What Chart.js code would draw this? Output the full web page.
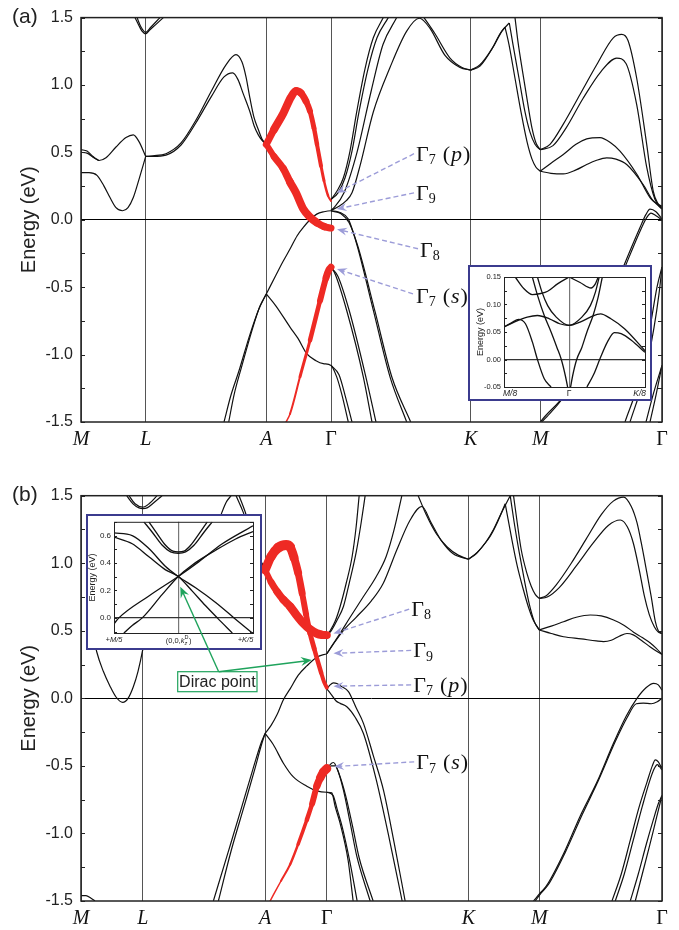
<!DOCTYPE html>
<html>
<head>
<meta charset="utf-8">
<script src="https://cdn.jsdelivr.net/npm/chart.js@4.4.0/dist/chart.umd.min.js"></script>
<style>
html, body { margin: 0; padding: 0; background: #fff; }
#wrap { position: relative; width: 679px; height: 930px; overflow: hidden; }
canvas { position: absolute; }
</style>
</head>
<body>
<div id="wrap">
  <canvas id="pa" width="679" height="465" style="left:0;top:0"></canvas>
  <canvas id="pb" width="679" height="465" style="left:0;top:465px"></canvas>
  <canvas id="ia" width="184" height="136" style="left:468px;top:265px"></canvas>
  <canvas id="ib" width="176" height="136" style="left:86px;top:514px"></canvas>
</div>
<script>
// k-path positions of the high-symmetry points and their labels
const kPosA = [0, 64.7, 185.3, 250, 389.7, 459.3, 581];
const kPosB = [0, 61.7, 184, 245.7, 387.3, 458, 580.7];
const kLab = ['M', 'L', 'A', 'Γ', 'K', 'M', 'Γ'];
const eTicks = [-1.5, -1, -0.5, 0, 0.5, 1, 1.5];

// ---- panel (a) bands, [k, E(eV)] ----
const aML1 = [[0,0.52],[6,0.51],[12,0.47],[18,0.44],[25,0.46],[35,0.54],[45,0.61],[52.3,0.63],[58,0.58],[64.7,0.47]];
const aML2 = [[0,0.50],[6,0.495],[12,0.465],[18,0.44]];
const aML3 = [[0,0.35],[8,0.35],[16,0.33],[23,0.25],[29,0.165],[35,0.09],[41.7,0.067],[47,0.09],[52.3,0.165],[58,0.3],[64.7,0.47]];
const aLtop1 = [[54,1.5],[58,1.44],[61,1.4],[64.7,1.38],[69,1.41],[75,1.45],[82.3,1.5]];
const aLtop2 = [[56,1.5],[60,1.43],[64.7,1.39],[70,1.43],[79,1.5]];
const aLA1 = [[64.7,0.47],[72,0.475],[85,0.49],[100,0.57],[115,0.74],[130,0.95],[145,1.15],[155,1.225],[161,1.17],[165,1.06],[169,0.9],[173,0.76],[177.3,0.67],[181,0.6],[185.3,0.56]];
const aLA2 = [[64.7,0.47],[72,0.47],[85,0.48],[100,0.555],[115,0.72],[130,0.91],[143,1.06],[151.7,1.09],[157,1.04],[162,0.94],[169,0.8],[173,0.7],[177.3,0.63],[181,0.59],[185.3,0.56]];
const aAdn1 = [[143,-1.5],[150,-1.3],[158,-1.12],[169,-0.85],[178,-0.66],[185.3,-0.55]];
const aAdn2 = [[147.7,-1.5],[153,-1.3],[161,-1.08],[171,-0.82],[179,-0.64],[185.3,-0.55]];
const aAG1 = [[185.3,-0.55],[195,-0.41],[202,-0.31],[209,-0.217],[216,-0.12],[222.3,-0.057],[229,0.0],[235.7,0.042],[243,0.06],[250,0.067],[259,0.054],[267.3,0.005],[275.7,-0.18],[292.3,-0.67],[309,-1.165],[325.7,-1.5]];
const aGK2 = [[250,0.065],[260,0.045],[268,-0.02],[277,-0.2],[294,-0.68],[311,-1.17],[329.7,-1.5]];
const aAG2 = [[185.3,-0.55],[195,-0.64],[209,-0.796],[217,-0.88],[225.7,-0.993],[235,-1.045],[242.3,-1.067],[250,-1.08],[255.7,-1.165],[261,-1.3],[267.3,-1.5]];
const aGK3 = [[250,-1.08],[258,-1.15],[264,-1.3],[271,-1.5]];
const aGK1a = [[250,0.15],[255.7,0.21],[262.3,0.31],[269,0.51],[275.7,0.8],[284,1.12],[292.3,1.35],[302.3,1.5]];
const aGK1b = [[250,0.15],[257,0.2],[264,0.31],[271,0.51],[278,0.8],[287,1.12],[296,1.35],[307.3,1.5]];
const aGK1c = [[250,0.07],[253,0.09],[263,0.2],[276,0.5],[290,0.95],[302,1.3],[315.7,1.5]];
const aGK4 = [[250,0.07],[258,0.1],[265,0.14],[271,0.2],[279,0.4],[292.3,0.8],[309,1.13],[325.7,1.4],[338.3,1.495],[349,1.42],[364,1.22],[379,1.13],[389.7,1.11]];
const aGK5 = [[343,1.5],[354,1.38],[369,1.2],[381,1.13],[389.7,1.11]];
const aGs1 = [[250,-0.352],[254,-0.4],[265.7,-0.673],[282.3,-1.165],[291,-1.5]];
const aGs2 = [[250,-0.352],[257,-0.42],[268.5,-0.68],[285,-1.17],[295,-1.5]];
const aKM1 = [[389.7,1.11],[399,1.15],[411,1.27],[419,1.38],[424,1.43]];
const aKM2 = [[389.7,1.11],[399,1.14],[412,1.28],[421,1.4],[428.3,1.46]];
const aKM3 = [[424,1.43],[428,1.3],[434,1.05],[440,0.8],[446,0.58],[451,0.45],[455,0.39],[459.3,0.36]];
const aKM4 = [[428.3,1.46],[432,1.3],[438,1.05],[444,0.8],[449,0.65],[454,0.56],[459.3,0.52]];
const aKM5 = [[434,1.5],[437,1.32],[442,1.08],[447,0.85],[451,0.68],[455,0.57],[459.3,0.52]];
const aMG1 = [[459.3,0.52],[469,0.56],[482.3,0.71],[499,0.93],[515.7,1.15],[532.3,1.35],[540.7,1.375],[547,1.33],[555.7,1.05],[565.7,0.56],[572.3,0.21],[577,0.12],[581,0.09]];
const aMG2 = [[459.3,0.52],[472,0.55],[485,0.68],[502,0.9],[520,1.1],[535.7,1.2],[545,1.16],[555.7,0.855],[565.7,0.39],[574,0.15],[581,0.08]];
const aMG3 = [[459.3,0.36],[470,0.42],[482.3,0.485],[495,0.56],[505.7,0.6],[519,0.61],[530,0.57],[539,0.51],[555.7,0.34],[569,0.165],[575,0.12],[581,0.08]];
const aMG4 = [[459.3,0.36],[470,0.345],[482.3,0.34],[495,0.37],[505.7,0.41],[515,0.44],[525.7,0.46],[535,0.45],[545.7,0.41],[562.3,0.26],[572.3,0.14],[581,0.1]];
const aMG5 = [[459.3,-1.5],[465,-1.45],[482.3,-1.31],[515.7,-0.845],[542.3,-0.35],[559,-0.057],[565,0.04],[569,0.079],[575,0.06],[581,0.005]];
const aMG6 = [[460.5,-1.5],[466,-1.46],[484,-1.3],[517.5,-0.84],[544,-0.35],[560.5,-0.06],[566,0.02],[570,0.05],[575,0.03],[581,0.0]];
const aMGb1 = [[544,-1.5],[559,-1.17],[569,-0.8],[576,-0.5],[581,-0.35]];
const aMGb2 = [[549,-1.5],[563,-1.17],[573,-0.8],[578,-0.55],[581,-0.35]];
const aMGb3 = [[565,-1.5],[572,-1.3],[581,-1.08]];
const aMGb4 = [[569,-1.5],[575,-1.3],[581,-1.08]];
// red (fat) bands and their thickness per segment
const aRed1 = [[185.3,0.56],[193,0.67],[202.3,0.79],[210,0.91],[215,0.955],[220,0.94],[225,0.88],[229,0.806],[233,0.68],[236,0.56],[240,0.4],[243,0.29],[247,0.18],[250,0.14]];
const aRed1W = [7,8,8,8,7.5,7,6,5,4.5,4,3,2.5,2];
const aRed2 = [[185.3,0.56],[193,0.47],[202.3,0.38],[209,0.28],[215,0.2],[222.3,0.08],[229,0.02],[235.7,-0.02],[243,-0.05],[250,-0.062]];
const aRed2W = [6,7,7.5,8,8,8,8,7.5,7];
const aRed3 = [[205,-1.5],[209,-1.44],[219,-1.165],[229,-0.894],[239,-0.6],[245,-0.43],[248,-0.37],[250,-0.352]];
const aRed3W = [1.5,2,3,4.5,6,7,7];

// ---- panel (b) bands ----
const bM0 = [[0,-1.46],[5,-1.46],[10,-1.48],[14,-1.5]];
const bML1 = [[10,0.55],[15.7,0.345],[22.3,0.2],[29,0.09],[35,0.01],[41.7,-0.03],[47,0.0],[52.3,0.086],[57,0.2],[61.7,0.36],[66,0.55]];
const bLtop1 = [[45.7,1.5],[52,1.44],[58,1.41],[61.7,1.405],[66,1.41],[73,1.45],[81,1.5]];
const bLtop2 = [[48,1.5],[54,1.44],[61.7,1.415],[68,1.44],[76,1.5]];
const bLA1 = [[61.7,0.36],[80,0.45],[100,0.65],[120,0.95],[137,1.3],[145,1.45],[150,1.5]];
const bLA2 = [[155,1.5],[162,1.38],[170,1.2],[177,1.06],[184,0.95]];
const bLA3 = [[158,1.5],[165,1.36],[172,1.18],[179,1.03],[184,0.95]];
const bAdn1 = [[132.3,-1.5],[147,-1.14],[160,-0.82],[172,-0.52],[180,-0.33],[184,-0.26]];
const bAdn2 = [[137.3,-1.5],[150,-1.13],[163,-0.8],[173.5,-0.53],[180.5,-0.34],[184,-0.26]];
const bAG1 = [[184,-0.26],[190,-0.2],[196,-0.12],[202.3,-0.01],[209,0.07],[217,0.17],[225.7,0.24],[235.7,0.305],[245.7,0.33]];
const bAG2 = [[184,-0.26],[192,-0.34],[202.3,-0.48],[212,-0.58],[225.7,-0.65],[235.7,-0.685],[245.7,-0.695],[250.7,-0.70],[254,-0.8],[259,-0.925],[267,-1.2],[272,-1.5]];
const bGK0 = [[245.7,-0.695],[252,-0.72],[256,-0.82],[261,-0.95],[269,-1.22],[276,-1.5]];
const bGK1 = [[245.7,0.468],[249,0.5],[254,0.57],[259,0.68],[265,0.85],[271,1.05],[275,1.27],[278,1.5]];
const bGK2 = [[245.7,0.468],[250,0.5],[256,0.58],[262.3,0.68],[268,0.85],[275,1.08],[280,1.3],[284,1.5]];
const bGK3 = [[245.7,0.33],[250,0.38],[258,0.47],[269,0.6],[282,0.75],[295,0.9],[305,1.05],[313,1.25],[320.7,1.5]];
const bGK4 = [[245.7,0.33],[252,0.4],[262,0.5],[275,0.6],[290,0.72],[302,0.85],[315.7,1.1],[329,1.32],[340.7,1.42],[350,1.3],[360,1.17],[372,1.07],[387.3,1.03]];
const bGK5 = [[337,1.5],[345,1.36],[355,1.22],[366,1.12],[377,1.06],[387.3,1.03]];
const bGK6 = [[245.7,0.07],[249,0.1],[252.3,0.115],[255.7,0.11],[260,0.09],[267.3,0.05],[275,-0.07],[282.3,-0.185],[292,-0.42],[302.3,-0.68],[313,-1.07],[324,-1.5]];
const bGK7 = [[245.7,0.07],[250,0.03],[255,-0.02],[259,-0.037],[265.7,-0.062],[274,-0.14],[282.3,-0.26],[295,-0.6],[307,-1.0],[321,-1.5]];
const bGs1 = [[245.7,-0.53],[249,-0.49],[252.3,-0.475],[256,-0.52],[262.3,-0.68],[269,-0.92],[275.7,-1.17],[289,-1.5]];
const bGs2 = [[245.7,-0.53],[250,-0.5],[254,-0.5],[258,-0.56],[264.5,-0.72],[271.5,-0.95],[278,-1.18],[292,-1.5]];
const bKM1 = [[387.3,1.03],[395,1.07],[402,1.13],[409,1.2],[416,1.3],[424,1.44]];
const bKM2 = [[387.3,1.03],[396,1.08],[404,1.15],[412.3,1.25],[420,1.37],[429,1.5]];
const bKM3 = [[424,1.44],[430,1.2],[436,0.98],[442.3,0.8],[447,0.68],[452,0.58],[458,0.506]];
const bKM4 = [[432.3,1.5],[436,1.3],[440,1.1],[445.7,0.925],[450,0.83],[454,0.77],[458,0.74]];
const bKM5 = [[429,1.5],[433,1.3],[438,1.08],[443,0.88],[448,0.7],[453,0.57],[458,0.506]];
const bMG1 = [[458,0.74],[465,0.76],[475,0.84],[490,1.0],[505,1.18],[520,1.36],[532,1.46],[542.3,1.49],[550,1.42],[555.7,1.3],[560,1.15],[565.7,0.925],[570,0.75],[574,0.57],[577,0.5],[580.7,0.48]];
const bMG2 = [[458,0.74],[466,0.75],[478,0.82],[495,0.98],[512,1.15],[527,1.28],[539,1.32],[546,1.27],[552,1.15],[558,0.95],[563,0.76],[568,0.62],[573,0.53],[577,0.49],[580.7,0.48]];
const bMG3 = [[458,0.506],[470,0.535],[482.3,0.567],[495,0.6],[509,0.617],[520,0.61],[532.3,0.58],[543,0.54],[552.3,0.49],[561,0.45],[569,0.41],[575,0.37],[580.7,0.325]];
const bMG4 = [[458,0.506],[470,0.48],[482.3,0.456],[500,0.44],[515,0.425],[522.3,0.42],[530,0.43],[538,0.46],[545.7,0.48],[552,0.47],[560,0.43],[569,0.38],[575,0.35],[580.7,0.325]];
const bMG5 = [[452.3,-1.5],[459,-1.44],[465,-1.39],[482.3,-1.15],[499,-0.87],[515.7,-0.62],[532.3,-0.33],[545,-0.13],[555.7,0.0],[565,0.08],[572.3,0.111],[577,0.1],[580.7,0.06]];
const bMG6 = [[454,-1.5],[460,-1.44],[467,-1.38],[484,-1.14],[501,-0.86],[517,-0.61],[534,-0.32],[546,-0.14],[555,-0.04],[562,-0.035],[570,-0.04],[576,-0.025],[580.7,0.0]];
const bMGb1 = [[530.7,-1.5],[540,-1.3],[549,-1.05],[558,-0.8],[565.7,-0.62],[571,-0.5],[574,-0.456],[577,-0.47],[580.7,-0.52]];
const bMGb2 = [[534,-1.5],[543,-1.3],[552,-1.05],[561,-0.8],[568,-0.62],[573,-0.52],[576,-0.49],[580.7,-0.53]];
const bMGb3 = [[549,-1.5],[557,-1.3],[565,-1.08],[572,-0.9],[577,-0.78],[580.7,-0.72]];
const bMGb4 = [[554,-1.5],[561,-1.3],[568,-1.1],[574,-0.92],[578,-0.8],[580.7,-0.72]];
const bRed1 = [[184,0.95],[190,1.05],[197,1.115],[205,1.135],[209,1.12],[213,1.04],[217,0.93],[221,0.78],[225,0.62],[229,0.48],[233,0.37],[236,0.29],[240,0.19],[243,0.12],[245.7,0.08]];
const bRed1W = [9,9.5,10,10,9,8,7,6,5.5,5,4.5,4.5,4,4];
const bRed2 = [[184,0.95],[190,0.86],[196,0.79],[202.3,0.73],[209,0.68],[215,0.62],[222.3,0.555],[229,0.51],[235.7,0.48],[241,0.47],[245.7,0.468]];
const bRed2W = [6,7,7.5,8,8.5,8.5,8.5,8.5,8.5,8];
const bRed3 = [[189,-1.5],[200,-1.35],[209,-1.23],[217,-1.08],[225.7,-0.9],[231,-0.78],[235.7,-0.65],[239,-0.59],[242.3,-0.545],[245.7,-0.52]];
const bRed3W = [1.5,2,2.5,3.5,4.5,6,7.5,8.5,9];

// ---- inset (a): M/8 - Γ - K/8, E in eV ----
const insK = [-0.86, 0, 1];
const iaLab = ['M/8', 'Γ', 'K/8'];
const iaETicks = [-0.05, 0, 0.05, 0.1, 0.15];
const iaTl = [[-0.712,0.15],[-0.599,0.129],[-0.486,0.118],[-0.374,0.12],[-0.284,0.124],[-0.149,0.138],[0,0.15]];
const iaTr = [[0,0.15],[0.144,0.14],[0.288,0.13],[0.347,0.138],[0.383,0.15]];
const iaP = [[-0.419,0.15],[-0.36,0.123],[-0.284,0.098],[-0.171,0.077],[0,0.062],[0.167,0.077],[0.279,0.098],[0.347,0.123],[0.396,0.15]];
const iaL2 = [[-0.86,0.059],[-0.712,0.069],[-0.554,0.077],[-0.419,0.08],[-0.261,0.074],[-0.126,0.065],[0,0.062],[0.144,0.068],[0.279,0.077],[0.414,0.083],[0.55,0.074],[0.73,0.056],[1.0,0.016]];
const iaL1 = [[-0.86,0.059],[-0.757,0.067],[-0.667,0.073],[-0.577,0.065],[-0.486,0.032],[-0.419,0.0],[-0.329,-0.035],[-0.239,-0.05]];
const iaVl = [[-0.486,0.15],[-0.419,0.117],[-0.329,0.08],[-0.239,0.05],[-0.162,0.022],[-0.104,0.0],[-0.05,-0.03],[0,-0.065]];
const iaVr = [[0,-0.065],[0.045,-0.03],[0.099,0.0],[0.167,0.022],[0.234,0.05],[0.315,0.08],[0.378,0.111],[0.437,0.15]];
const iaR = [[0.234,-0.05],[0.324,-0.027],[0.414,0.004],[0.505,0.032],[0.595,0.049],[0.685,0.047],[0.82,0.035],[1.0,0.013]];

// ---- inset (b): +M/5 - (0,0,kzD) - +K/5 ----
const ibLab = ['+M/5', '', '+K/5'];
const ibETicks = [0, 0.2, 0.4, 0.6];
const ibA = [[-0.86,0.619],[-0.616,0.6],[-0.393,0.505],[-0.17,0.374],[0,0.302],[0.232,0.219],[0.5,0.112],[0.746,0],[0.99,-0.11]];
const ibB = [[-0.86,0.588],[-0.616,0.54],[-0.393,0.445],[-0.17,0.35],[0,0.302],[0.1875,0.195],[0.366,0.088],[0.522,0],[0.723,-0.11]];
const ibC = [[-0.86,-0.043],[-0.795,0],[-0.393,0.16],[0,0.302],[0.277,0.41],[0.589,0.54],[1.0,0.671]];
const ibD = [[-0.728,-0.11],[-0.616,-0.055],[-0.482,0],[-0.214,0.171],[0,0.302],[0.1875,0.386],[0.5,0.493],[0.768,0.575],[1.0,0.629]];
const ibU1 = [[-0.46,0.7],[-0.348,0.624],[-0.214,0.529],[-0.103,0.481],[0,0.471],[0.098,0.481],[0.21,0.529],[0.344,0.624],[0.455,0.7]];
const ibU2 = [[-0.393,0.7],[-0.281,0.612],[-0.17,0.529],[-0.071,0.486],[0,0.481],[0.076,0.486],[0.165,0.529],[0.277,0.612],[0.388,0.7]];

// annotation anchors (k, E): text, arrow tail, arrow head
const notesA = [
  { t: [335, 0.495], a: [333, 0.49], h: [255.7, 0.2], sub: '7', par: 'p' },
  { t: [335, 0.205], a: [333, 0.2], h: [255.7, 0.08], sub: '9' },
  { t: [339, -0.22], a: [337, -0.215], h: [256, -0.07], sub: '8' },
  { t: [335, -0.56], a: [332, -0.55], h: [256, -0.365], sub: '7', par: 's' }
];
const notesB = [
  { t: [330, 0.667], a: [328, 0.66], h: [252.3, 0.48], sub: '8' },
  { t: [332, 0.36], a: [330, 0.355], h: [252.3, 0.333], sub: '9' },
  { t: [332, 0.105], a: [330, 0.1], h: [252.3, 0.09], sub: '7', par: 'p' },
  { t: [335, -0.47], a: [333, -0.47], h: [253, -0.505], sub: '7', par: 's' }
];

const RED = '#ee2a24';
const LAV = '#9c9cd8';
const GREEN = '#1fa35c';
const BOX = '#3b3b8e';
const SANS = '"Liberation Sans", Arial, sans-serif';
const SERIF = '"Liberation Serif", "Times New Roman", serif';
const IB_POS = { left: 86, top: 514 };
const PB_TOP = 465;
// Dirac point callout, page coordinates
const DIRAC = { box: [177.7, 671.7, 79.3, 20], tail: [218.7, 671.7], inHead: [180.3, 586.7], mainHead: [230.7, 0.283] };

function lines(list, color, width) {
  return list.map(b => ({
    data: b.map(p => ({ x: p[0], y: p[1] })),
    borderColor: color, borderWidth: width, pointRadius: 0, fill: false,
    cubicInterpolationMode: 'monotone', order: 1, clip: 0
  }));
}
function fat(b, w) {
  return {
    data: b.map(p => ({ x: p[0], y: p[1] })),
    borderColor: RED, borderWidth: w[0],
    segment: { borderWidth: c => w[c.p0DataIndex] },
    borderCapStyle: 'round', borderJoinStyle: 'round',
    pointRadius: 0, fill: false, cubicInterpolationMode: 'monotone', order: 0, clip: 0
  };
}

function arrow(ctx, x0, y0, x1, y1, color, dash, lw, hl, hw) {
  const ang = Math.atan2(y1 - y0, x1 - x0);
  const c = Math.cos(ang), s = Math.sin(ang);
  const bx = x1 - hl * c, by = y1 - hl * s;
  ctx.save();
  ctx.strokeStyle = color; ctx.fillStyle = color; ctx.lineWidth = lw;
  ctx.setLineDash(dash);
  ctx.beginPath(); ctx.moveTo(x0, y0); ctx.lineTo(x1 - hl * 0.6 * c, y1 - hl * 0.6 * s); ctx.stroke();
  ctx.setLineDash([]);
  ctx.beginPath();
  ctx.moveTo(x1, y1);
  ctx.lineTo(bx - hw * s, by + hw * c);
  ctx.lineTo(x1 - hl * 0.65 * c, y1 - hl * 0.65 * s);
  ctx.lineTo(bx + hw * s, by - hw * c);
  ctx.closePath(); ctx.fill();
  ctx.restore();
}

function gammaLabel(ctx, x, y, sub, par) {
  ctx.save();
  ctx.fillStyle = '#111'; ctx.textAlign = 'left'; ctx.textBaseline = 'alphabetic';
  ctx.font = '22px ' + SERIF;
  ctx.fillText('Γ', x, y + 7.5);
  let w = ctx.measureText('Γ').width;
  ctx.font = '14px ' + SERIF;
  ctx.fillText(sub, x + w, y + 11);
  w += ctx.measureText(sub).width;
  if (par) {
    w += 7;
    ctx.font = '22px ' + SERIF;
    ctx.fillText('(', x + w, y + 7.5); w += ctx.measureText('(').width + 1;
    ctx.font = 'italic 22px ' + SERIF;
    ctx.fillText(par, x + w, y + 7.5); w += ctx.measureText(par).width + 1;
    ctx.font = '22px ' + SERIF;
    ctx.fillText(')', x + w, y + 7.5);
  }
  ctx.restore();
}

function inwardTicks(ctx, ca, ys, from, to, step, len) {
  ctx.save();
  ctx.strokeStyle = '#222'; ctx.lineWidth = 1;
  ctx.beginPath();
  for (let v = from; v <= to + 1e-9; v += step) {
    const y = Math.round(ys.getPixelForValue(v)) + 0.5;
    ctx.moveTo(ca.left, y); ctx.lineTo(ca.left + len, y);
    ctx.moveTo(ca.right - len, y); ctx.lineTo(ca.right, y);
  }
  ctx.stroke();
  ctx.restore();
}

function drawDiracArrow(ctx, ox, oy) {
  arrow(ctx, DIRAC.tail[0] - ox, DIRAC.tail[1] - oy, DIRAC.inHead[0] - ox, DIRAC.inHead[1] - oy, GREEN, [], 1.4, 11, 4.5);
}

function mainDeco(tag, notes, dirac) {
  return {
    id: 'deco',
    afterDraw(chart) {
      const ctx = chart.ctx, ca = chart.chartArea;
      const xs = chart.scales.x, ys = chart.scales.y;
      const P = p => [xs.getPixelForValue(p[0]), ys.getPixelForValue(p[1])];
      inwardTicks(ctx, ca, ys, -1.5, 1.5, 0.25, 4);
      ctx.save();
      ctx.strokeStyle = '#222'; ctx.lineWidth = 1.5;
      ctx.strokeRect(ca.left, ca.top, ca.width, ca.height);
      ctx.fillStyle = '#222'; ctx.font = '21px ' + SANS;
      ctx.textAlign = 'left'; ctx.textBaseline = 'middle';
      ctx.fillText(tag, 12, ca.top);
      ctx.restore();
      notes.forEach(n => {
        const a = P(n.a), h = P(n.h), t = P(n.t);
        arrow(ctx, a[0], a[1], h[0], h[1], LAV, [5, 3], 1.4, 10, 4);
        gammaLabel(ctx, t[0], t[1], n.sub, n.par);
      });
      if (dirac) {
        const oy = PB_TOP;
        const [bx, by, bw, bh] = DIRAC.box;
        ctx.save();
        ctx.fillStyle = '#fff'; ctx.fillRect(bx, by - oy, bw, bh);
        ctx.strokeStyle = GREEN; ctx.lineWidth = 1.2; ctx.strokeRect(bx, by - oy, bw, bh);
        ctx.fillStyle = '#222'; ctx.font = '16px ' + SANS;
        ctx.textAlign = 'center'; ctx.textBaseline = 'middle';
        ctx.fillText('Dirac point', bx + bw / 2, by - oy + bh / 2 + 1);
        ctx.restore();
        const m = P(DIRAC.mainHead);
        arrow(ctx, DIRAC.tail[0], DIRAC.tail[1] - oy, m[0], m[1], GREEN, [], 1.4, 11, 4.5);
        drawDiracArrow(ctx, 0, oy);
      }
    }
  };
}

function makeMain(id, kPos, bands, reds, lay, tag, notes, dirac) {
  const ds = [].concat(reds.map(r => fat(r[0], r[1])), lines(bands, '#111', 1.2));
  return new Chart(document.getElementById(id), {
    type: 'line',
    data: { datasets: ds },
    options: {
      responsive: false, animation: false, devicePixelRatio: 1, events: [],
      layout: { padding: { left: 0, top: lay.top, right: 17, bottom: 0 } },
      plugins: { legend: { display: false }, tooltip: { enabled: false } },
      scales: {
        x: {
          type: 'linear', min: kPos[0], max: kPos[kPos.length - 1],
          afterBuildTicks: s => { s.ticks = kPos.map(v => ({ value: v })); },
          afterFit: s => { s.height = lay.xh; },
          ticks: {
            autoSkip: false, maxRotation: 0, padding: lay.xpad, color: '#111',
            callback: (v, i) => kLab[i],
            font: c => ({ family: SERIF, size: 20, style: kLab[c.index] === 'Γ' ? 'normal' : 'italic' })
          },
          grid: { color: '#555', lineWidth: 1, drawTicks: false },
          border: { display: false }
        },
        y: {
          type: 'linear', min: -1.5, max: 1.5,
          afterBuildTicks: s => { s.ticks = eTicks.map(v => ({ value: v })); },
          afterFit: s => { s.width = 81; },
          ticks: { padding: 8, color: '#222', font: { family: SANS, size: 16 }, callback: v => v.toFixed(1) },
          grid: { color: c => (c.tick && Math.abs(c.tick.value) < 1e-9) ? '#000' : 'rgba(0,0,0,0)', lineWidth: 1, drawTicks: false },
          border: { display: false },
          title: { display: true, text: 'Energy (eV)', color: '#222', font: { family: SANS, size: 20 }, padding: { top: 17, bottom: 0 } }
        }
      }
    },
    plugins: [mainDeco(tag, notes, dirac)]
  });
}

function insetDeco(opt) {
  return {
    id: 'insetDeco',
    beforeDraw(chart) {
      const ctx = chart.ctx;
      ctx.save(); ctx.fillStyle = '#fff'; ctx.fillRect(0, 0, chart.width, chart.height); ctx.restore();
    },
    afterDraw(chart) {
      const ctx = chart.ctx, ca = chart.chartArea;
      const xs = chart.scales.x, ys = chart.scales.y;
      inwardTicks(ctx, ca, ys, opt.tFrom, opt.tTo, opt.tStep, 3);
      ctx.save();
      ctx.strokeStyle = '#222'; ctx.lineWidth = 1;
      ctx.strokeRect(ca.left + 0.5, ca.top + 0.5, ca.width, ca.height);
      ctx.strokeStyle = BOX; ctx.lineWidth = 2;
      ctx.strokeRect(1, 1, chart.width - 2, chart.height - 2);
      ctx.restore();
      if (opt.kzLabel) {
        // centre label (0,0,k_z^D)
        const cx = xs.getPixelForValue(0), by = ca.bottom + 10;
        ctx.save();
        ctx.fillStyle = '#222'; ctx.textBaseline = 'alphabetic'; ctx.textAlign = 'left';
        const parts = [['(0,0,', '7.5px ' + SANS, 0], ['k', 'italic 7.5px ' + SANS, 0], ['z', 'italic 5.5px ' + SANS, 2], ['D', '5.5px ' + SANS, -4.5], [')', '7.5px ' + SANS, 0]];
        const ws = parts.map(p => { ctx.font = p[1]; return ctx.measureText(p[0]).width; });
        const tot = ws[0] + ws[1] + Math.max(ws[2], ws[3]) + ws[4];
        let x = cx - tot / 2;
        ctx.font = parts[0][1]; ctx.fillText(parts[0][0], x, by); x += ws[0];
        ctx.font = parts[1][1]; ctx.fillText(parts[1][0], x, by); x += ws[1];
        ctx.font = parts[2][1]; ctx.fillText(parts[2][0], x, by + parts[2][2]);
        ctx.font = parts[3][1]; ctx.fillText(parts[3][0], x, by + parts[3][2]);
        x += Math.max(ws[2], ws[3]) + 0.5;
        ctx.font = parts[4][1]; ctx.fillText(parts[4][0], x, by);
        ctx.restore();
      }
      if (opt.dirac) drawDiracArrow(ctx, IB_POS.left, IB_POS.top);
    }
  };
}

function makeInset(id, bands, o) {
  return new Chart(document.getElementById(id), {
    type: 'line',
    data: { datasets: lines(bands, '#111', 1.3) },
    options: {
      responsive: false, animation: false, devicePixelRatio: 1, events: [],
      layout: { padding: { left: 0, top: o.top, right: o.right, bottom: 0 } },
      plugins: { legend: { display: false }, tooltip: { enabled: false } },
      scales: {
        x: {
          type: 'linear', min: insK[0], max: insK[2],
          // label anchors sit slightly inside the frame so edge labels stay in the box
          afterBuildTicks: s => { s.ticks = o.labPos.map(v => ({ value: v })); },
          afterFit: s => { s.height = o.xh; },
          ticks: {
            autoSkip: false, maxRotation: 0, padding: 2, color: '#222',
            callback: (v, i) => o.lab[i],
            font: c => ({ family: SANS, size: o.xfs, style: o.lab[c.index] === 'Γ' ? 'normal' : 'italic' })
          },
          grid: { color: c => (c.tick && c.tick.value === 0) ? '#777' : 'rgba(0,0,0,0)', lineWidth: 1.2, drawTicks: false },
          border: { display: false }
        },
        y: {
          type: 'linear', min: o.ymin, max: o.ymax,
          afterBuildTicks: s => { s.ticks = o.eTicks.map(v => ({ value: v })); },
          afterFit: s => { s.width = o.yw; },
          ticks: { padding: 3, color: '#222', font: { family: SANS, size: o.yfs }, callback: v => v.toFixed(o.dec) },
          grid: { color: c => (c.tick && Math.abs(c.tick.value) < 1e-9) ? '#333' : 'rgba(0,0,0,0)', lineWidth: 1.2, drawTicks: false },
          border: { display: false },
          title: { display: true, text: 'Energy (eV)', color: '#222', font: { family: SANS, size: 9 }, padding: { top: o.tpad, bottom: 0 } }
        }
      }
    },
    plugins: [insetDeco(o)]
  });
}

makeMain('pa', kPosA,
  [aML1, aML2, aML3, aLtop1, aLtop2, aLA1, aLA2, aAdn1, aAdn2, aAG1, aGK2, aAG2, aGK3,
   aGK1a, aGK1b, aGK1c, aGK4, aGK5, aGs1, aGs2, aKM1, aKM2, aKM3, aKM4, aKM5,
   aMG1, aMG2, aMG3, aMG4, aMG5, aMG6, aMGb1, aMGb2, aMGb3, aMGb4],
  [[aRed1, aRed1W], [aRed2, aRed2W], [aRed3, aRed3W]],
  { top: 16, xh: 43, xpad: 6 }, '(a)', notesA, false);

makeMain('pb', kPosB,
  [bM0, bML1, bLtop1, bLtop2, bLA1, bLA2, bLA3, bAdn1, bAdn2, bAG1, bAG2, bGK0,
   bGK1, bGK2, bGK3, bGK4, bGK5, bGK6, bGK7, bGs1, bGs2, bKM1, bKM2, bKM3, bKM4, bKM5,
   bMG1, bMG2, bMG3, bMG4, bMG5, bMG6, bMGb1, bMGb2, bMGb3, bMGb4],
  [[bRed1, bRed1W], [bRed2, bRed2W], [bRed3, bRed3W]],
  { top: 30.7, xh: 29, xpad: 6 }, '(b)', notesB, true);

makeInset('ia', [iaTl, iaTr, iaP, iaL2, iaL1, iaVl, iaVr, iaR], {
  top: 12, right: 7, xh: 14, yw: 36, ymin: -0.05, ymax: 0.15, eTicks: iaETicks, dec: 2,
  lab: iaLab, labPos: [-0.78, 0, 0.93], xfs: 8.5, yfs: 7.5, tpad: 7, tFrom: -0.05, tTo: 0.15, tStep: 0.025
});

makeInset('ib', [ibA, ibB, ibC, ibD, ibU1, ibU2], {
  top: 7, right: 9, xh: 17, yw: 28, ymin: -0.11, ymax: 0.7, eTicks: ibETicks, dec: 1,
  lab: ibLab, labPos: [-0.86, 0, 0.9], xfs: 7.5, yfs: 8, tpad: 1.5, tFrom: -0.1, tTo: 0.7, tStep: 0.1, kzLabel: true, dirac: true
});
</script>
</body>
</html>
